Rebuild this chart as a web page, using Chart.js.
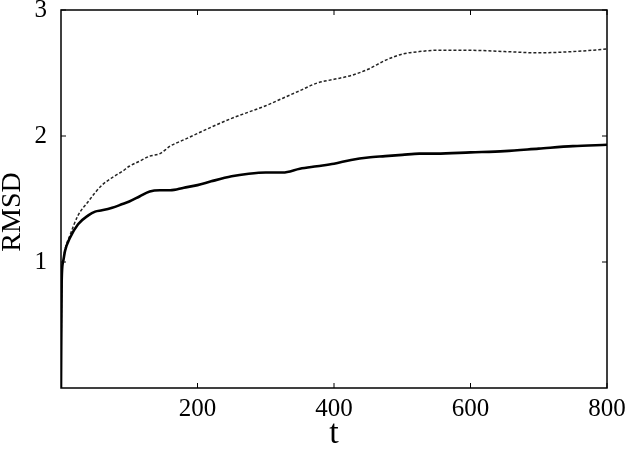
<!DOCTYPE html>
<html lang="en">
<head>
    <meta charset="UTF-8">
    <title>RMSD vs t</title>
    <style>
        body { margin: 0; background: #fff; }
        canvas { display: block; }
    </style>
</head>
<body>
    <canvas id="rmsdChart" width="630" height="449"></canvas>

    <script src="https://cdn.jsdelivr.net/npm/chart.js"></script>
    <script>
        // waktu (t) bersama untuk kedua kurva
        const tValues = [0, 1, 3, 6, 13, 25, 40, 50, 60, 75, 90, 100, 115, 130, 145, 160, 180, 200, 220, 250,
            275, 300, 325, 350, 375, 400, 425, 450, 475, 500, 525, 550, 600, 650, 700, 750, 800];

        // kurva tebal (garis penuh)
        const rmsdSolid = [0, 0.85, 1.0, 1.09, 1.19, 1.30, 1.37, 1.40, 1.41, 1.43, 1.46, 1.48, 1.52, 1.56, 1.57, 1.57, 1.59, 1.61, 1.64, 1.68,
            1.70, 1.71, 1.71, 1.74, 1.76, 1.78, 1.81, 1.83, 1.84, 1.85, 1.86, 1.86, 1.87, 1.88, 1.90, 1.92, 1.93];

        // kurva putus-putus
        const rmsdDashed = [0, 0.85, 1.0, 1.10, 1.21, 1.37, 1.48, 1.55, 1.61, 1.67, 1.72, 1.76, 1.80, 1.84, 1.86, 1.92, 1.97, 2.02, 2.07, 2.14,
            2.19, 2.24, 2.30, 2.36, 2.42, 2.45, 2.48, 2.53, 2.60, 2.65, 2.67, 2.68, 2.68, 2.67, 2.66, 2.67, 2.69];

        const xTicks = [200, 400, 600, 800];
        const yTicks = [1, 2, 3];

        const SERIF = '"Liberation Serif", "Times New Roman", Times, serif';

        const toPoints = ys => tValues.map((t, i) => ({ x: t, y: ys[i] }));

        // bingkai kotak + tick ke dalam di keempat sisi
        const framePlugin = {
            id: 'frame',
            beforeDatasetsDraw(chart) {
                const { ctx, chartArea: a, scales } = chart;
                const len = 5;
                ctx.save();
                ctx.strokeStyle = '#000';
                ctx.lineWidth = 1.5;
                ctx.strokeRect(a.left, a.top, a.right - a.left, a.bottom - a.top);
                ctx.beginPath();
                xTicks.forEach(v => {
                    const px = scales.x.getPixelForValue(v);
                    ctx.moveTo(px, a.bottom); ctx.lineTo(px, a.bottom - len);
                    ctx.moveTo(px, a.top); ctx.lineTo(px, a.top + len);
                });
                yTicks.forEach(v => {
                    const py = scales.y.getPixelForValue(v);
                    ctx.moveTo(a.left, py); ctx.lineTo(a.left + len, py);
                    ctx.moveTo(a.right, py); ctx.lineTo(a.right - len, py);
                });
                ctx.lineWidth = 1;
                ctx.stroke();

                // judul sumbu y
                ctx.translate(13, 212);
                ctx.rotate(-Math.PI / 2);
                ctx.font = '28px ' + SERIF;
                ctx.fillStyle = '#000';
                ctx.textAlign = 'center';
                ctx.textBaseline = 'middle';
                ctx.fillText('RMSD', 0, 0);
                ctx.restore();
            }
        };

        const tickFont = { family: SERIF, size: 25 };

        function renderChart() {
            new Chart(document.getElementById('rmsdChart'), {
                type: 'line',
                data: {
                    datasets: [
                        {
                            label: 'solid',
                            data: toPoints(rmsdSolid),
                            borderColor: '#000',
                            borderWidth: 2.6,
                            pointRadius: 0,
                            cubicInterpolationMode: 'monotone',
                            fill: false
                        },
                        {
                            label: 'dashed',
                            data: toPoints(rmsdDashed),
                            borderColor: '#222',
                            borderWidth: 1.5,
                            borderDash: [3, 2],
                            pointRadius: 0,
                            cubicInterpolationMode: 'monotone',
                            fill: false
                        }
                    ]
                },
                options: {
                    responsive: false,
                    animation: false,
                    layout: { padding: { top: 10, right: 23, left: 0, bottom: 0 } },
                    plugins: { legend: { display: false }, tooltip: { enabled: false } },
                    scales: {
                        x: {
                            type: 'linear',
                            min: 0,
                            max: 800,
                            afterFit: s => { s.height = 61; s.paddingLeft = 0; s.paddingRight = 0; },
                            grid: { display: false, drawTicks: false },
                            border: { display: false },
                            ticks: {
                                stepSize: 200,
                                color: '#000',
                                font: tickFont,
                                padding: 6,
                                maxRotation: 0,
                                callback: v => (xTicks.includes(v) ? v : '')
                            },
                            title: {
                                display: true,
                                text: 't',
                                color: '#000',
                                font: { family: SERIF, size: 34, lineHeight: 0.85 },
                                padding: { top: 0, bottom: 0 }
                            }
                        },
                        y: {
                            min: 0,
                            max: 3,
                            afterFit: s => { s.width = 61; s.paddingTop = 0; s.paddingBottom = 0; },
                            grid: { display: false, drawTicks: false },
                            border: { display: false },
                            ticks: {
                                stepSize: 1,
                                color: '#000',
                                font: tickFont,
                                padding: 14,
                                callback: v => (yTicks.includes(v) ? v : '')
                            }
                        }
                    }
                },
                plugins: [framePlugin]
            });
        }

        document.fonts.load('24px "Liberation Serif"').then(renderChart, renderChart);
    </script>
</body>
</html>
